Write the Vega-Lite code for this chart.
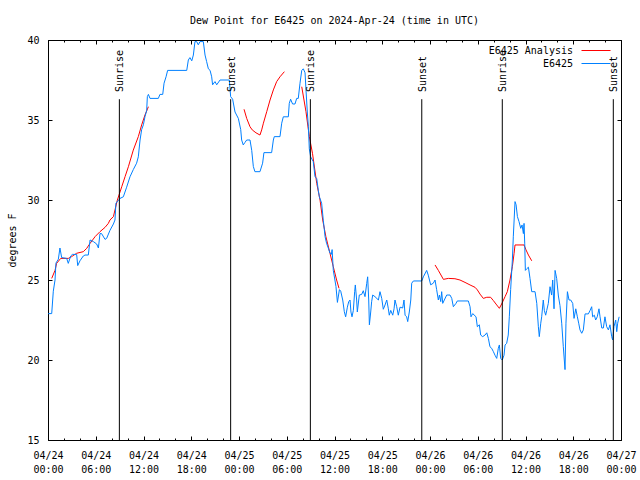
{
  "$schema": "https://vega.github.io/schema/vega-lite/v6.json",
  "width": 573,
  "height": 400,
  "autosize": "none",
  "padding": {"left": 48, "top": 40, "right": 19, "bottom": 40},
  "background": "white",
  "config": {
    "font": "DejaVu Sans Mono",
    "view": {"stroke": "black", "strokeWidth": 1},
    "axis": {"labelFont": "DejaVu Sans Mono", "labelFontSize": 10, "labelColor": "black", "tickColor": "black", "tickWidth": 1, "titleFont": "DejaVu Sans Mono", "titleFontSize": 10, "titleFontWeight": "normal", "titleColor": "black", "grid": false, "domain": false},
    "legend": {"labelFont": "DejaVu Sans Mono", "labelFontSize": 10, "labelColor": "black"},
    "style": {"guide-label": {"lineBreak": "\n"}}
  },
  "title": {"text": "Dew Point for E6425 on 2024-Apr-24 (time in UTC)", "font": "DejaVu Sans Mono", "fontSize": 10, "fontWeight": "normal", "color": "black", "anchor": "middle", "offset": 9},
  "datasets": {
    "obs": [
      {"t": "2024-04-24T00:02:00Z", "v": 22.9}, {"t": "2024-04-24T00:28:00Z", "v": 22.9}, {"t": "2024-04-24T00:40:00Z", "v": 24.3}, {"t": "2024-04-24T00:53:00Z", "v": 25.0},
      {"t": "2024-04-24T01:00:00Z", "v": 26.06}, {"t": "2024-04-24T01:18:00Z", "v": 26.3}, {"t": "2024-04-24T01:30:00Z", "v": 27.0}, {"t": "2024-04-24T01:43:00Z", "v": 26.4},
      {"t": "2024-04-24T02:21:00Z", "v": 26.35}, {"t": "2024-04-24T02:33:00Z", "v": 26.04}, {"t": "2024-04-24T02:51:00Z", "v": 26.5}, {"t": "2024-04-24T03:04:00Z", "v": 26.6},
      {"t": "2024-04-24T03:36:00Z", "v": 26.6}, {"t": "2024-04-24T03:44:00Z", "v": 25.9}, {"t": "2024-04-24T04:01:00Z", "v": 26.2}, {"t": "2024-04-24T04:26:00Z", "v": 26.5},
      {"t": "2024-04-24T04:39:00Z", "v": 26.56}, {"t": "2024-04-24T05:04:00Z", "v": 26.56}, {"t": "2024-04-24T05:17:00Z", "v": 27.5}, {"t": "2024-04-24T05:42:00Z", "v": 27.4},
      {"t": "2024-04-24T06:07:00Z", "v": 27.25}, {"t": "2024-04-24T06:20:00Z", "v": 27.0}, {"t": "2024-04-24T06:32:00Z", "v": 27.9}, {"t": "2024-04-24T06:44:00Z", "v": 27.9},
      {"t": "2024-04-24T07:10:00Z", "v": 27.54}, {"t": "2024-04-24T07:22:00Z", "v": 27.6}, {"t": "2024-04-24T07:47:00Z", "v": 28.1}, {"t": "2024-04-24T08:13:00Z", "v": 28.5},
      {"t": "2024-04-24T08:25:00Z", "v": 28.75}, {"t": "2024-04-24T08:32:00Z", "v": 29.8}, {"t": "2024-04-24T09:03:00Z", "v": 30.1}, {"t": "2024-04-24T09:28:00Z", "v": 30.2},
      {"t": "2024-04-24T09:53:00Z", "v": 30.8}, {"t": "2024-04-24T10:18:00Z", "v": 31.45}, {"t": "2024-04-24T10:43:00Z", "v": 31.9}, {"t": "2024-04-24T11:08:00Z", "v": 32.3},
      {"t": "2024-04-24T11:21:00Z", "v": 32.7}, {"t": "2024-04-24T11:34:00Z", "v": 33.75}, {"t": "2024-04-24T11:46:00Z", "v": 34.4}, {"t": "2024-04-24T11:59:00Z", "v": 34.7},
      {"t": "2024-04-24T12:11:00Z", "v": 35.2}, {"t": "2024-04-24T12:24:00Z", "v": 35.6}, {"t": "2024-04-24T12:29:00Z", "v": 36.46}, {"t": "2024-04-24T12:37:00Z", "v": 36.6},
      {"t": "2024-04-24T12:49:00Z", "v": 36.35}, {"t": "2024-04-24T13:52:00Z", "v": 36.35}, {"t": "2024-04-24T14:04:00Z", "v": 36.6}, {"t": "2024-04-24T14:25:00Z", "v": 36.6},
      {"t": "2024-04-24T14:35:00Z", "v": 37.3}, {"t": "2024-04-24T14:50:00Z", "v": 37.7}, {"t": "2024-04-24T15:02:00Z", "v": 38.1}, {"t": "2024-04-24T17:26:00Z", "v": 38.1},
      {"t": "2024-04-24T17:38:00Z", "v": 38.75}, {"t": "2024-04-24T17:50:00Z", "v": 38.9}, {"t": "2024-04-24T18:04:00Z", "v": 38.7}, {"t": "2024-04-24T18:16:00Z", "v": 39.06},
      {"t": "2024-04-24T18:28:00Z", "v": 39.9}, {"t": "2024-04-24T18:41:00Z", "v": 39.9}, {"t": "2024-04-24T18:53:00Z", "v": 39.7}, {"t": "2024-04-24T19:06:00Z", "v": 39.9},
      {"t": "2024-04-24T19:31:00Z", "v": 39.9}, {"t": "2024-04-24T19:44:00Z", "v": 39.06}, {"t": "2024-04-24T19:56:00Z", "v": 38.65}, {"t": "2024-04-24T20:09:00Z", "v": 38.2},
      {"t": "2024-04-24T20:22:00Z", "v": 38.1}, {"t": "2024-04-24T20:34:00Z", "v": 37.7}, {"t": "2024-04-24T20:41:00Z", "v": 37.2}, {"t": "2024-04-24T20:59:00Z", "v": 37.4},
      {"t": "2024-04-24T21:12:00Z", "v": 37.2}, {"t": "2024-04-24T21:37:00Z", "v": 37.5}, {"t": "2024-04-24T22:47:00Z", "v": 37.5}, {"t": "2024-04-24T22:57:00Z", "v": 36.46},
      {"t": "2024-04-24T23:12:00Z", "v": 36.3}, {"t": "2024-04-24T23:30:00Z", "v": 35.5}, {"t": "2024-04-24T23:55:00Z", "v": 35.1},
      {"t": "2024-04-25T00:13:00Z", "v": 34.4}, {"t": "2024-04-25T00:20:00Z", "v": 33.75}, {"t": "2024-04-25T00:32:00Z", "v": 33.44}, {"t": "2024-04-25T00:45:00Z", "v": 33.6},
      {"t": "2024-04-25T00:58:00Z", "v": 33.75}, {"t": "2024-04-25T01:23:00Z", "v": 33.75}, {"t": "2024-04-25T01:36:00Z", "v": 33.1}, {"t": "2024-04-25T01:48:00Z", "v": 32.1},
      {"t": "2024-04-25T02:00:00Z", "v": 31.77}, {"t": "2024-04-25T02:38:00Z", "v": 31.77}, {"t": "2024-04-25T02:58:00Z", "v": 32.3}, {"t": "2024-04-25T03:08:00Z", "v": 32.96},
      {"t": "2024-04-25T04:06:00Z", "v": 32.96}, {"t": "2024-04-25T04:19:00Z", "v": 33.75}, {"t": "2024-04-25T04:26:00Z", "v": 33.96}, {"t": "2024-04-25T05:09:00Z", "v": 33.96},
      {"t": "2024-04-25T05:22:00Z", "v": 34.8}, {"t": "2024-04-25T05:34:00Z", "v": 35.2}, {"t": "2024-04-25T06:12:00Z", "v": 35.2}, {"t": "2024-04-25T06:19:00Z", "v": 36.04},
      {"t": "2024-04-25T06:29:00Z", "v": 36.3}, {"t": "2024-04-25T06:44:00Z", "v": 36.0}, {"t": "2024-04-25T07:02:00Z", "v": 36.0}, {"t": "2024-04-25T07:15:00Z", "v": 36.35},
      {"t": "2024-04-25T07:27:00Z", "v": 36.35}, {"t": "2024-04-25T07:40:00Z", "v": 37.3}, {"t": "2024-04-25T07:53:00Z", "v": 38.1}, {"t": "2024-04-25T08:05:00Z", "v": 38.2},
      {"t": "2024-04-25T08:18:00Z", "v": 37.95}, {"t": "2024-04-25T08:25:00Z", "v": 36.9}, {"t": "2024-04-25T08:35:00Z", "v": 35.5}, {"t": "2024-04-25T08:43:00Z", "v": 34.6},
      {"t": "2024-04-25T08:50:00Z", "v": 33.2}, {"t": "2024-04-25T09:00:00Z", "v": 32.7}, {"t": "2024-04-25T09:20:00Z", "v": 32.4}, {"t": "2024-04-25T09:33:00Z", "v": 31.45},
      {"t": "2024-04-25T09:46:00Z", "v": 31.35}, {"t": "2024-04-25T09:58:00Z", "v": 30.6}, {"t": "2024-04-25T10:06:00Z", "v": 30.2}, {"t": "2024-04-25T10:23:00Z", "v": 29.8},
      {"t": "2024-04-25T10:36:00Z", "v": 28.7}, {"t": "2024-04-25T10:49:00Z", "v": 27.7}, {"t": "2024-04-25T11:00:00Z", "v": 27.3}, {"t": "2024-04-25T11:13:00Z", "v": 27.0},
      {"t": "2024-04-25T11:26:00Z", "v": 26.67}, {"t": "2024-04-25T11:36:00Z", "v": 26.6}, {"t": "2024-04-25T11:42:00Z", "v": 26.9}, {"t": "2024-04-25T11:51:00Z", "v": 25.6},
      {"t": "2024-04-25T12:11:00Z", "v": 24.6}, {"t": "2024-04-25T12:22:00Z", "v": 23.6}, {"t": "2024-04-25T12:37:00Z", "v": 24.4}, {"t": "2024-04-25T12:47:00Z", "v": 24.3},
      {"t": "2024-04-25T13:02:00Z", "v": 23.75}, {"t": "2024-04-25T13:14:00Z", "v": 23.02}, {"t": "2024-04-25T13:24:00Z", "v": 22.7}, {"t": "2024-04-25T13:37:00Z", "v": 23.3},
      {"t": "2024-04-25T13:47:00Z", "v": 23.64}, {"t": "2024-04-25T13:57:00Z", "v": 23.75}, {"t": "2024-04-25T14:04:00Z", "v": 23.0}, {"t": "2024-04-25T14:12:00Z", "v": 22.7},
      {"t": "2024-04-25T14:22:00Z", "v": 23.1}, {"t": "2024-04-25T14:32:00Z", "v": 24.27}, {"t": "2024-04-25T14:37:00Z", "v": 24.69}, {"t": "2024-04-25T14:47:00Z", "v": 23.75},
      {"t": "2024-04-25T14:52:00Z", "v": 23.0}, {"t": "2024-04-25T15:07:00Z", "v": 24.06}, {"t": "2024-04-25T15:25:00Z", "v": 24.1}, {"t": "2024-04-25T15:37:00Z", "v": 24.33},
      {"t": "2024-04-25T15:50:00Z", "v": 23.96}, {"t": "2024-04-25T16:03:00Z", "v": 24.79}, {"t": "2024-04-25T16:10:00Z", "v": 25.2}, {"t": "2024-04-25T16:18:00Z", "v": 23.75},
      {"t": "2024-04-25T16:23:00Z", "v": 22.2}, {"t": "2024-04-25T16:33:00Z", "v": 23.0}, {"t": "2024-04-25T16:40:00Z", "v": 23.64}, {"t": "2024-04-25T16:48:00Z", "v": 24.06},
      {"t": "2024-04-25T17:05:00Z", "v": 23.96}, {"t": "2024-04-25T17:31:00Z", "v": 23.75}, {"t": "2024-04-25T17:43:00Z", "v": 24.27}, {"t": "2024-04-25T17:56:00Z", "v": 23.85},
      {"t": "2024-04-25T18:08:00Z", "v": 23.17}, {"t": "2024-04-25T18:21:00Z", "v": 23.44}, {"t": "2024-04-25T18:34:00Z", "v": 23.75}, {"t": "2024-04-25T18:46:00Z", "v": 23.2},
      {"t": "2024-04-25T18:53:00Z", "v": 22.8}, {"t": "2024-04-25T19:04:00Z", "v": 23.1}, {"t": "2024-04-25T19:19:00Z", "v": 22.8}, {"t": "2024-04-25T19:29:00Z", "v": 23.2},
      {"t": "2024-04-25T19:36:00Z", "v": 23.75}, {"t": "2024-04-25T19:49:00Z", "v": 23.33}, {"t": "2024-04-25T20:01:00Z", "v": 22.8}, {"t": "2024-04-25T20:14:00Z", "v": 23.3},
      {"t": "2024-04-25T20:34:00Z", "v": 23.25}, {"t": "2024-04-25T20:44:00Z", "v": 23.75}, {"t": "2024-04-25T20:52:00Z", "v": 22.8}, {"t": "2024-04-25T21:04:00Z", "v": 22.7},
      {"t": "2024-04-25T21:12:00Z", "v": 22.4}, {"t": "2024-04-25T21:24:00Z", "v": 23.0}, {"t": "2024-04-25T21:35:00Z", "v": 23.75}, {"t": "2024-04-25T21:42:00Z", "v": 24.8},
      {"t": "2024-04-25T21:55:00Z", "v": 24.94}, {"t": "2024-04-25T22:58:00Z", "v": 24.94}, {"t": "2024-04-25T23:10:00Z", "v": 25.2}, {"t": "2024-04-25T23:35:00Z", "v": 25.6},
      {"t": "2024-04-25T23:47:00Z", "v": 25.3},
      {"t": "2024-04-26T00:05:00Z", "v": 24.7}, {"t": "2024-04-26T00:25:00Z", "v": 24.8}, {"t": "2024-04-26T00:38:00Z", "v": 25.0}, {"t": "2024-04-26T00:50:00Z", "v": 24.4},
      {"t": "2024-04-26T01:03:00Z", "v": 23.75}, {"t": "2024-04-26T01:11:00Z", "v": 24.06}, {"t": "2024-04-26T01:21:00Z", "v": 23.65}, {"t": "2024-04-26T01:28:00Z", "v": 24.27},
      {"t": "2024-04-26T01:36:00Z", "v": 23.54}, {"t": "2024-04-26T01:48:00Z", "v": 23.75}, {"t": "2024-04-26T02:06:00Z", "v": 24.06}, {"t": "2024-04-26T02:31:00Z", "v": 24.06},
      {"t": "2024-04-26T02:44:00Z", "v": 23.85}, {"t": "2024-04-26T02:56:00Z", "v": 23.33}, {"t": "2024-04-26T03:16:00Z", "v": 23.54}, {"t": "2024-04-26T03:26:00Z", "v": 23.69},
      {"t": "2024-04-26T04:49:00Z", "v": 23.69}, {"t": "2024-04-26T05:02:00Z", "v": 23.33}, {"t": "2024-04-26T05:09:00Z", "v": 22.7}, {"t": "2024-04-26T05:22:00Z", "v": 22.9},
      {"t": "2024-04-26T05:47:00Z", "v": 22.7}, {"t": "2024-04-26T05:57:00Z", "v": 22.08}, {"t": "2024-04-26T06:12:00Z", "v": 22.2}, {"t": "2024-04-26T06:22:00Z", "v": 21.56},
      {"t": "2024-04-26T06:37:00Z", "v": 21.46}, {"t": "2024-04-26T06:55:00Z", "v": 21.56}, {"t": "2024-04-26T07:08:00Z", "v": 21.7}, {"t": "2024-04-26T07:20:00Z", "v": 21.35},
      {"t": "2024-04-26T07:32:00Z", "v": 20.83}, {"t": "2024-04-26T07:45:00Z", "v": 20.73}, {"t": "2024-04-26T07:58:00Z", "v": 20.52}, {"t": "2024-04-26T08:10:00Z", "v": 20.3},
      {"t": "2024-04-26T08:23:00Z", "v": 20.1}, {"t": "2024-04-26T08:35:00Z", "v": 20.73}, {"t": "2024-04-26T08:43:00Z", "v": 20.94}, {"t": "2024-04-26T08:53:00Z", "v": 20.1},
      {"t": "2024-04-26T09:05:00Z", "v": 20.0}, {"t": "2024-04-26T09:18:00Z", "v": 20.3}, {"t": "2024-04-26T09:26:00Z", "v": 20.94}, {"t": "2024-04-26T09:38:00Z", "v": 21.04},
      {"t": "2024-04-26T09:50:00Z", "v": 21.56}, {"t": "2024-04-26T09:58:00Z", "v": 22.7}, {"t": "2024-04-26T10:08:00Z", "v": 24.4}, {"t": "2024-04-26T10:21:00Z", "v": 26.25},
      {"t": "2024-04-26T10:28:00Z", "v": 27.7}, {"t": "2024-04-26T10:41:00Z", "v": 29.9}, {"t": "2024-04-26T10:49:00Z", "v": 29.7}, {"t": "2024-04-26T10:59:00Z", "v": 28.96},
      {"t": "2024-04-26T11:11:00Z", "v": 28.65}, {"t": "2024-04-26T11:24:00Z", "v": 28.23}, {"t": "2024-04-26T11:34:00Z", "v": 28.44}, {"t": "2024-04-26T11:44:00Z", "v": 27.9},
      {"t": "2024-04-26T11:49:00Z", "v": 28.54}, {"t": "2024-04-26T11:54:00Z", "v": 27.3}, {"t": "2024-04-26T11:59:00Z", "v": 25.6}, {"t": "2024-04-26T12:09:00Z", "v": 25.7},
      {"t": "2024-04-26T12:22:00Z", "v": 25.8}, {"t": "2024-04-26T12:34:00Z", "v": 25.1}, {"t": "2024-04-26T12:47:00Z", "v": 24.27}, {"t": "2024-04-26T13:12:00Z", "v": 24.27},
      {"t": "2024-04-26T13:25:00Z", "v": 23.54}, {"t": "2024-04-26T13:37:00Z", "v": 22.08}, {"t": "2024-04-26T13:44:00Z", "v": 21.46}, {"t": "2024-04-26T13:55:00Z", "v": 22.3},
      {"t": "2024-04-26T14:02:00Z", "v": 22.7}, {"t": "2024-04-26T14:14:00Z", "v": 23.75}, {"t": "2024-04-26T14:22:00Z", "v": 23.1}, {"t": "2024-04-26T14:32:00Z", "v": 22.8},
      {"t": "2024-04-26T14:40:00Z", "v": 23.1}, {"t": "2024-04-26T14:52:00Z", "v": 23.54}, {"t": "2024-04-26T15:05:00Z", "v": 24.58}, {"t": "2024-04-26T15:17:00Z", "v": 24.06},
      {"t": "2024-04-26T15:25:00Z", "v": 25.0}, {"t": "2024-04-26T15:35:00Z", "v": 23.2}, {"t": "2024-04-26T15:43:00Z", "v": 25.6}, {"t": "2024-04-26T15:55:00Z", "v": 25.1},
      {"t": "2024-04-26T16:08:00Z", "v": 24.0}, {"t": "2024-04-26T16:20:00Z", "v": 23.4}, {"t": "2024-04-26T16:33:00Z", "v": 22.3}, {"t": "2024-04-26T16:45:00Z", "v": 20.83},
      {"t": "2024-04-26T16:58:00Z", "v": 19.4}, {"t": "2024-04-26T17:05:00Z", "v": 22.3}, {"t": "2024-04-26T17:16:00Z", "v": 24.27}, {"t": "2024-04-26T17:28:00Z", "v": 23.75},
      {"t": "2024-04-26T17:41:00Z", "v": 23.75}, {"t": "2024-04-26T17:56:00Z", "v": 23.54}, {"t": "2024-04-26T18:06:00Z", "v": 22.6}, {"t": "2024-04-26T18:19:00Z", "v": 23.2},
      {"t": "2024-04-26T18:31:00Z", "v": 22.7}, {"t": "2024-04-26T18:41:00Z", "v": 22.3}, {"t": "2024-04-26T18:51:00Z", "v": 21.88}, {"t": "2024-04-26T19:04:00Z", "v": 21.67},
      {"t": "2024-04-26T19:16:00Z", "v": 21.88}, {"t": "2024-04-26T19:29:00Z", "v": 22.88}, {"t": "2024-04-26T19:54:00Z", "v": 22.88}, {"t": "2024-04-26T20:07:00Z", "v": 23.1},
      {"t": "2024-04-26T20:19:00Z", "v": 23.33}, {"t": "2024-04-26T20:26:00Z", "v": 22.7}, {"t": "2024-04-26T20:39:00Z", "v": 22.8}, {"t": "2024-04-26T20:49:00Z", "v": 22.5},
      {"t": "2024-04-26T21:01:00Z", "v": 22.7}, {"t": "2024-04-26T21:14:00Z", "v": 23.2}, {"t": "2024-04-26T21:22:00Z", "v": 22.7}, {"t": "2024-04-26T21:35:00Z", "v": 22.0},
      {"t": "2024-04-26T21:47:00Z", "v": 22.0}, {"t": "2024-04-26T21:59:00Z", "v": 22.7}, {"t": "2024-04-26T22:12:00Z", "v": 22.08}, {"t": "2024-04-26T22:25:00Z", "v": 21.88},
      {"t": "2024-04-26T22:37:00Z", "v": 22.2}, {"t": "2024-04-26T22:50:00Z", "v": 21.46}, {"t": "2024-04-26T22:57:00Z", "v": 21.25}, {"t": "2024-04-26T23:07:00Z", "v": 22.08},
      {"t": "2024-04-26T23:20:00Z", "v": 22.5}, {"t": "2024-04-26T23:28:00Z", "v": 21.77}, {"t": "2024-04-26T23:35:00Z", "v": 22.3}, {"t": "2024-04-26T23:46:00Z", "v": 22.7}
    ],
    "anal": [
      {"seg": 1, "t": "2024-04-24T00:28:00Z", "v": 25.1}, {"seg": 1, "t": "2024-04-24T00:53:00Z", "v": 25.6}, {"seg": 1, "t": "2024-04-24T01:05:00Z", "v": 26.04},
      {"seg": 1, "t": "2024-04-24T01:36:00Z", "v": 26.35}, {"seg": 1, "t": "2024-04-24T02:33:00Z", "v": 26.35}, {"seg": 1, "t": "2024-04-24T02:58:00Z", "v": 26.46},
      {"seg": 1, "t": "2024-04-24T03:36:00Z", "v": 26.67}, {"seg": 1, "t": "2024-04-24T04:26:00Z", "v": 26.77}, {"seg": 1, "t": "2024-04-24T04:52:00Z", "v": 26.98},
      {"seg": 1, "t": "2024-04-24T05:17:00Z", "v": 27.29}, {"seg": 1, "t": "2024-04-24T05:55:00Z", "v": 27.71}, {"seg": 1, "t": "2024-04-24T06:32:00Z", "v": 28.02},
      {"seg": 1, "t": "2024-04-24T07:10:00Z", "v": 28.29}, {"seg": 1, "t": "2024-04-24T07:35:00Z", "v": 28.54}, {"seg": 1, "t": "2024-04-24T07:47:00Z", "v": 28.75},
      {"seg": 1, "t": "2024-04-24T08:13:00Z", "v": 28.96}, {"seg": 1, "t": "2024-04-24T08:43:00Z", "v": 30.0}, {"seg": 1, "t": "2024-04-24T09:16:00Z", "v": 30.83},
      {"seg": 1, "t": "2024-04-24T09:41:00Z", "v": 31.46}, {"seg": 1, "t": "2024-04-24T10:06:00Z", "v": 32.08}, {"seg": 1, "t": "2024-04-24T10:43:00Z", "v": 33.12},
      {"seg": 1, "t": "2024-04-24T11:21:00Z", "v": 33.96}, {"seg": 1, "t": "2024-04-24T11:46:00Z", "v": 34.69}, {"seg": 1, "t": "2024-04-24T12:11:00Z", "v": 35.31},
      {"seg": 1, "t": "2024-04-24T12:37:00Z", "v": 35.83},
      {"seg": 2, "t": "2024-04-25T00:38:00Z", "v": 35.67}, {"seg": 2, "t": "2024-04-25T00:58:00Z", "v": 35.1}, {"seg": 2, "t": "2024-04-25T01:23:00Z", "v": 34.58},
      {"seg": 2, "t": "2024-04-25T01:40:00Z", "v": 34.38}, {"seg": 2, "t": "2024-04-25T02:08:00Z", "v": 34.2}, {"seg": 2, "t": "2024-04-25T02:38:00Z", "v": 34.06},
      {"seg": 2, "t": "2024-04-25T02:51:00Z", "v": 34.38}, {"seg": 2, "t": "2024-04-25T03:04:00Z", "v": 34.8}, {"seg": 2, "t": "2024-04-25T03:29:00Z", "v": 35.52},
      {"seg": 2, "t": "2024-04-25T03:54:00Z", "v": 36.25}, {"seg": 2, "t": "2024-04-25T04:19:00Z", "v": 36.88}, {"seg": 2, "t": "2024-04-25T04:44:00Z", "v": 37.4},
      {"seg": 2, "t": "2024-04-25T05:09:00Z", "v": 37.7}, {"seg": 2, "t": "2024-04-25T05:42:00Z", "v": 38.02},
      {"seg": 3, "t": "2024-04-25T07:53:00Z", "v": 37.08}, {"seg": 3, "t": "2024-04-25T08:25:00Z", "v": 35.52}, {"seg": 3, "t": "2024-04-25T08:50:00Z", "v": 33.96},
      {"seg": 3, "t": "2024-04-25T09:14:00Z", "v": 32.92}, {"seg": 3, "t": "2024-04-25T09:46:00Z", "v": 31.04}, {"seg": 3, "t": "2024-04-25T10:11:00Z", "v": 30.0},
      {"seg": 3, "t": "2024-04-25T10:31:00Z", "v": 28.75}, {"seg": 3, "t": "2024-04-25T10:55:00Z", "v": 27.71}, {"seg": 3, "t": "2024-04-25T11:26:00Z", "v": 26.67},
      {"seg": 3, "t": "2024-04-25T11:51:00Z", "v": 25.83}, {"seg": 3, "t": "2024-04-25T12:16:00Z", "v": 25.0}, {"seg": 3, "t": "2024-04-25T12:34:00Z", "v": 24.48},
      {"seg": 4, "t": "2024-04-26T00:38:00Z", "v": 25.94}, {"seg": 4, "t": "2024-04-26T01:03:00Z", "v": 25.6}, {"seg": 4, "t": "2024-04-26T01:41:00Z", "v": 25.04},
      {"seg": 4, "t": "2024-04-26T02:18:00Z", "v": 25.1}, {"seg": 4, "t": "2024-04-26T03:08:00Z", "v": 25.08}, {"seg": 4, "t": "2024-04-26T03:46:00Z", "v": 25.0},
      {"seg": 4, "t": "2024-04-26T04:24:00Z", "v": 24.85}, {"seg": 4, "t": "2024-04-26T05:02:00Z", "v": 24.69}, {"seg": 4, "t": "2024-04-26T05:40:00Z", "v": 24.54},
      {"seg": 4, "t": "2024-04-26T05:57:00Z", "v": 24.38}, {"seg": 4, "t": "2024-04-26T06:17:00Z", "v": 24.12}, {"seg": 4, "t": "2024-04-26T06:42:00Z", "v": 23.85},
      {"seg": 4, "t": "2024-04-26T07:08:00Z", "v": 23.92}, {"seg": 4, "t": "2024-04-26T07:37:00Z", "v": 23.92}, {"seg": 4, "t": "2024-04-26T07:58:00Z", "v": 23.71},
      {"seg": 4, "t": "2024-04-26T08:23:00Z", "v": 23.44}, {"seg": 4, "t": "2024-04-26T08:43:00Z", "v": 23.23}, {"seg": 4, "t": "2024-04-26T09:00:00Z", "v": 23.5},
      {"seg": 4, "t": "2024-04-26T09:26:00Z", "v": 23.96}, {"seg": 4, "t": "2024-04-26T09:43:00Z", "v": 24.27}, {"seg": 4, "t": "2024-04-26T10:03:00Z", "v": 25.0},
      {"seg": 4, "t": "2024-04-26T10:21:00Z", "v": 25.83}, {"seg": 4, "t": "2024-04-26T10:34:00Z", "v": 26.67}, {"seg": 4, "t": "2024-04-26T10:41:00Z", "v": 27.19},
      {"seg": 4, "t": "2024-04-26T11:49:00Z", "v": 27.19}, {"seg": 4, "t": "2024-04-26T12:04:00Z", "v": 26.88}, {"seg": 4, "t": "2024-04-26T12:22:00Z", "v": 26.56},
      {"seg": 4, "t": "2024-04-26T12:47:00Z", "v": 26.2}
    ],
    "sun": [
      {"t": "2024-04-24T08:58:00Z", "label": "Sunrise"},
      {"t": "2024-04-24T22:57:00Z", "label": "Sunset"},
      {"t": "2024-04-25T08:58:00Z", "label": "Sunrise"},
      {"t": "2024-04-25T22:58:00Z", "label": "Sunset"},
      {"t": "2024-04-26T09:05:00Z", "label": "Sunrise"},
      {"t": "2024-04-26T23:02:00Z", "label": "Sunset"}
    ]
  },
  "layer": [
    {
      "data": {"name": "anal"},
      "mark": {"type": "line", "strokeWidth": 1},
      "encoding": {
        "x": {"field": "t", "type": "temporal",
          "scale": {"type": "utc", "nice": false, "domain": [{"year": 2024, "month": 4, "date": 24, "utc": true}, {"year": 2024, "month": 4, "date": 27, "utc": true}]},
          "axis": {"orient": "bottom", "title": null, "tickCount": 12, "format": "%m/%d\n%H:%M", "offset": -4, "tickSize": 4, "labelPadding": 10, "labelBaseline": "top", "labelLineHeight": 14, "labelFlush": false, "labelOverlap": false}},
        "y": {"field": "v", "type": "quantitative",
          "scale": {"domain": [15, 40], "nice": false, "zero": false},
          "axis": {"orient": "left", "values": [15, 20, 25, 30, 35, 40], "offset": -4, "tickSize": 4, "labelPadding": 9, "title": "degrees F", "titlePadding": 9}},
        "detail": {"field": "seg"},
        "color": {"datum": "E6425 Analysis",
          "scale": {"domain": ["E6425 Analysis", "E6425"], "range": ["#ff0000", "#0080ff"]},
          "legend": {"title": null, "orient": "none", "legendX": 543, "legendY": 5.5, "padding": 0, "symbolType": "M-5,0H5", "symbolSize": 33.64, "symbolStrokeWidth": 1, "labelAlign": "right", "labelOffset": -28, "rowPadding": 3, "labelFontSize": 10}}
      }
    },
    {
      "data": {"name": "obs"},
      "mark": {"type": "line", "strokeWidth": 1},
      "encoding": {
        "x": {"field": "t", "type": "temporal",
          "axis": {"orient": "bottom", "title": null, "labels": false, "offset": -2, "tickSize": 2,
            "values": [1713916800000, 1713924000000, 1713931200000, 1713938400000, 1713945600000, 1713952800000, 1713960000000, 1713967200000, 1713974400000, 1713981600000, 1713988800000, 1713996000000, 1714003200000, 1714010400000, 1714017600000, 1714024800000, 1714032000000, 1714039200000, 1714046400000, 1714053600000, 1714060800000, 1714068000000, 1714075200000, 1714082400000, 1714089600000, 1714096800000, 1714104000000, 1714111200000, 1714118400000, 1714125600000, 1714132800000, 1714140000000, 1714147200000, 1714154400000, 1714161600000, 1714168800000, 1714176000000]}},
        "y": {"field": "v", "type": "quantitative",
          "axis": {"orient": "right", "values": [15, 20, 25, 30, 35, 40], "labels": false, "offset": -4, "tickSize": 4, "title": null}},
        "color": {"datum": "E6425"}
      }
    },
    {
      "data": {"name": "sun"},
      "mark": {"type": "rule", "color": "black", "strokeWidth": 1},
      "encoding": {
        "x": {"field": "t", "type": "temporal",
          "axis": {"orient": "top", "title": null, "labels": false, "tickCount": 12, "offset": -4, "tickSize": 4}},
        "y": {"datum": 36.3, "axis": null},
        "y2": {"datum": 15}
      }
    },
    {
      "data": {"name": "sun"},
      "mark": {"type": "text", "angle": 270, "align": "left", "baseline": "middle", "dy": 1, "fontSize": 10, "color": "black"},
      "encoding": {
        "x": {"field": "t", "type": "temporal",
          "axis": {"orient": "top", "title": null, "labels": false, "offset": -2, "tickSize": 2,
            "values": [1713916800000, 1713924000000, 1713931200000, 1713938400000, 1713945600000, 1713952800000, 1713960000000, 1713967200000, 1713974400000, 1713981600000, 1713988800000, 1713996000000, 1714003200000, 1714010400000, 1714017600000, 1714024800000, 1714032000000, 1714039200000, 1714046400000, 1714053600000, 1714060800000, 1714068000000, 1714075200000, 1714082400000, 1714089600000, 1714096800000, 1714104000000, 1714111200000, 1714118400000, 1714125600000, 1714132800000, 1714140000000, 1714147200000, 1714154400000, 1714161600000, 1714168800000, 1714176000000]}},
        "y": {"datum": 36.75, "axis": null},
        "text": {"field": "label"}
      }
    }
  ],
  "resolve": {"axis": {"x": "independent", "y": "independent"}}
}
